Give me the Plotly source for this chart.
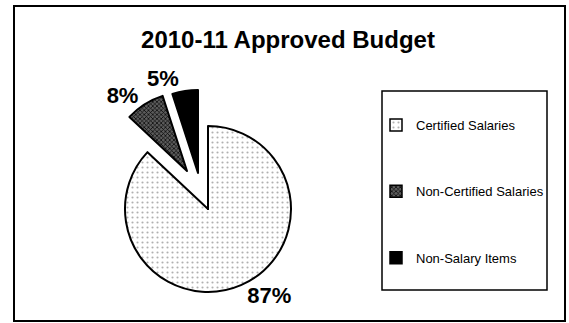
import plotly.graph_objects as go

# ---- data ----
categories = ["Certified Salaries", "Non-Certified Salaries", "Non-Salary Items"]
values = [87, 8, 5]
title_text = "2010-11 Approved Budget"

W, H = 569, 323
total = sum(values)
pct_text = [f"{round(v / total * 100)}%" for v in values]

# styles per category
fill_colors = ["white", "#444444", "black"]
pat_shapes = [".", "x", ""]
pat_fg = ["#b0b0b0", "#000000", "black"]
pat_bg = ["white", "#5c5c5c", "black"]
pat_size = [5, 3, 4]
pat_solid = [0.14, 0.4, 0.3]

FONT = "Liberation Sans, Arial, sans-serif"
TRANSP = "rgba(0,0,0,0)"


def px_domain(cx, cy, r):
    return dict(x=[(cx - r) / W, (cx + r) / W],
                y=[(H - (cy + r)) / H, (H - (cy - r)) / H])


def slice_trace(show_idx, cx, cy, r):
    cols, lw, shapes, texts = [], [], [], []
    for i in range(len(values)):
        if i == show_idx:
            cols.append(fill_colors[i]); lw.append(2)
            shapes.append(pat_shapes[i]); texts.append(pct_text[i])
        else:
            cols.append(TRANSP); lw.append(0)
            shapes.append(""); texts.append("")
    return go.Pie(
        labels=categories, values=values, sort=False, direction="clockwise",
        rotation=0, domain=px_domain(cx, cy, r), showlegend=False,
        text=texts, textinfo="text", textposition="outside",
        textfont=dict(family=FONT, size=22, color="black", weight="bold"),
        hoverinfo="skip",
        marker=dict(colors=cols, line=dict(color="black", width=lw),
                    pattern=dict(shape=shapes, fgcolor=pat_fg, bgcolor=pat_bg,
                                 size=pat_size, solidity=pat_solid,
                                 fillmode="replace")),
    )


fig = go.Figure()
# main slice (not exploded), exploded slices drawn as shifted pies
fig.add_trace(slice_trace(0, 208, 209, 83))
fig.add_trace(slice_trace(1, 187, 171, 79))
fig.add_trace(slice_trace(2, 198, 173, 83))

# legend entries (one tiny pie per category, hidden at the main pie's tip)
for i in range(len(values)):
    fig.add_trace(go.Pie(
        labels=[categories[i]], values=[values[i]], sort=False,
        domain=dict(x=[208 / W - 0.0004, 208 / W + 0.0004],
                    y=[(H - 209) / H - 0.0008, (H - 209) / H + 0.0008]),
        textinfo="none", hoverinfo="skip", showlegend=True,
        legendgroup=f"g{i}",
        marker=dict(colors=[fill_colors[i]], line=dict(color="black", width=1.5),
                    pattern=dict(shape=[pat_shapes[i]], fgcolor=[pat_fg[i]],
                                 bgcolor=[pat_bg[i]], size=[pat_size[i]],
                                 solidity=[pat_solid[i]], fillmode="replace")),
    ))

fig.update_layout(
    width=W, height=H,
    margin=dict(l=0, r=0, t=0, b=0),
    paper_bgcolor="white", plot_bgcolor="white",
    title=dict(text=f"<b>{title_text}</b>", x=288 / W, xanchor="center",
               y=1 - 40 / H, yanchor="middle",
               font=dict(family=FONT, size=24, color="black")),
    legend=dict(x=376 / W, xanchor="left", y=1 - 110 / H, yanchor="top",
                bgcolor=TRANSP, borderwidth=0, traceorder="grouped",
                tracegroupgap=46.5,
                font=dict(family=FONT, size=13, color="black")),
    shapes=[
        dict(type="rect", xref="paper", yref="paper",
             x0=14 / W, x1=565 / W, y0=(H - 321) / H, y1=(H - 6) / H,
             line=dict(color="black", width=2), fillcolor=TRANSP, layer="below"),
        dict(type="rect", xref="paper", yref="paper",
             x0=382 / W, x1=547 / W, y0=(H - 290) / H, y1=(H - 91) / H,
             line=dict(color="black", width=1.5), fillcolor=TRANSP, layer="below"),
    ],
)

fig.write_html("out.html")
